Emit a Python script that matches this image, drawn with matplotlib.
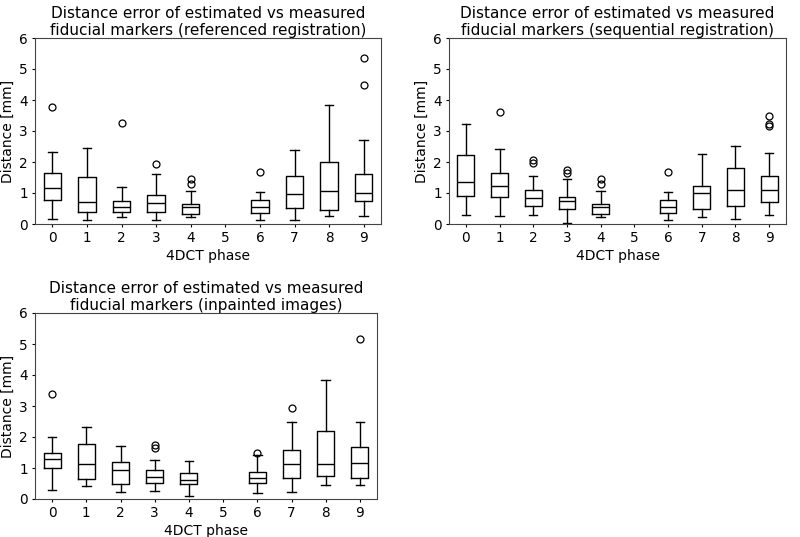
import matplotlib
matplotlib.use("Agg")
import matplotlib.pyplot as plt

phases = [0, 1, 2, 3, 4, 6, 7, 8, 9]
tick_labels = [str(i) for i in range(10)]

titles = [
    "Distance error of estimated vs measured\nfiducial markers (referenced registration)",
    "Distance error of estimated vs measured\nfiducial markers (sequential registration)",
    "Distance error of estimated vs measured\nfiducial markers (inpainted images)",
]

# referenced registration
ref_whislo = [0.15, 0.12, 0.22, 0.12, 0.22, 0.12, 0.14, 0.25, 0.25]
ref_q1     = [0.77, 0.39, 0.40, 0.38, 0.33, 0.36, 0.52, 0.44, 0.73]
ref_med    = [1.16, 0.72, 0.56, 0.67, 0.55, 0.55, 0.97, 1.08, 1.00]
ref_q3     = [1.65, 1.51, 0.75, 0.94, 0.63, 0.78, 1.55, 1.99, 1.62]
ref_whishi = [2.31, 2.45, 1.18, 1.60, 1.05, 1.02, 2.38, 3.83, 2.70]
ref_fliers = [[3.78], [], [3.25], [1.92], [1.30, 1.46], [1.68], [], [], [4.50, 5.35]]

# sequential registration
seq_whislo = [0.30, 0.25, 0.30, 0.02, 0.22, 0.12, 0.22, 0.15, 0.30]
seq_q1     = [0.89, 0.86, 0.59, 0.47, 0.33, 0.35, 0.50, 0.58, 0.70]
seq_med    = [1.35, 1.21, 0.83, 0.73, 0.55, 0.55, 1.00, 1.10, 1.10]
seq_q3     = [2.23, 1.63, 1.10, 0.88, 0.64, 0.78, 1.22, 1.82, 1.55]
seq_whishi = [3.23, 2.41, 1.55, 1.45, 1.05, 1.02, 2.26, 2.52, 2.28]
seq_fliers = [[], [3.62], [1.98, 2.05], [1.65, 1.75], [1.30, 1.45], [1.68], [], [], [3.17, 3.21, 3.48]]

# inpainted images
inp_whislo = [0.28, 0.41, 0.23, 0.26, 0.11, 0.19, 0.23, 0.46, 0.44]
inp_q1     = [0.99, 0.63, 0.50, 0.53, 0.50, 0.53, 0.69, 0.75, 0.69]
inp_med    = [1.28, 1.12, 0.93, 0.70, 0.62, 0.67, 1.12, 1.12, 1.15]
inp_q3     = [1.49, 1.76, 1.18, 0.93, 0.85, 0.88, 1.57, 2.20, 1.68]
inp_whishi = [2.01, 2.31, 1.72, 1.26, 1.23, 1.41, 2.48, 3.85, 2.50]
inp_fliers = [[3.38], [], [], [1.63, 1.73], [], [1.48], [2.95], [], [5.16]]

datasets = [
    (ref_whislo, ref_q1, ref_med, ref_q3, ref_whishi, ref_fliers),
    (seq_whislo, seq_q1, seq_med, seq_q3, seq_whishi, seq_fliers),
    (inp_whislo, inp_q1, inp_med, inp_q3, inp_whishi, inp_fliers),
]

W, H = 800, 537
fig = plt.figure(figsize=(W / 100, H / 100), dpi=100)
rects = [
    [35 / W, 1 - 224 / H, 346 / W, 186 / H],
    [449 / W, 1 - 224 / H, 337 / W, 186 / H],
    [35 / W, 1 - 499 / H, 342 / W, 186 / H],
]

for rect, title, (wl, q1, med, q3, wh, fl) in zip(rects, titles, datasets):
    ax = fig.add_axes(rect)
    stats = []
    for i in range(len(phases)):
        stats.append(dict(whislo=wl[i], q1=q1[i], med=med[i], q3=q3[i], whishi=wh[i], fliers=fl[i]))
    ax.bxp(stats, positions=phases, widths=0.5,
           boxprops=dict(color="black", linewidth=1),
           whiskerprops=dict(color="black", linewidth=1),
           capprops=dict(color="black", linewidth=1),
           medianprops=dict(color="black", linewidth=1),
           flierprops=dict(marker="o", markerfacecolor="none", markeredgecolor="black",
                           markersize=5, markeredgewidth=0.9))
    ax.set_xticks(range(10))
    ax.set_xticklabels(tick_labels)
    ax.set_xlim(-0.5, 9.5)
    ax.set_ylim(0, 6)
    ax.set_yticks(range(7))
    ax.tick_params(labelsize=9.8, length=2.5, pad=2.5)
    for sp in ax.spines.values():
        sp.set_color("#444444")
    ax.set_xlabel("4DCT phase", fontsize=10, labelpad=3)
    ax.set_ylabel("Distance [mm]", fontsize=10, labelpad=3)
    ax.set_title(title, fontsize=11, pad=1.5, linespacing=1.2)

fig.savefig("out.png", dpi=100)
